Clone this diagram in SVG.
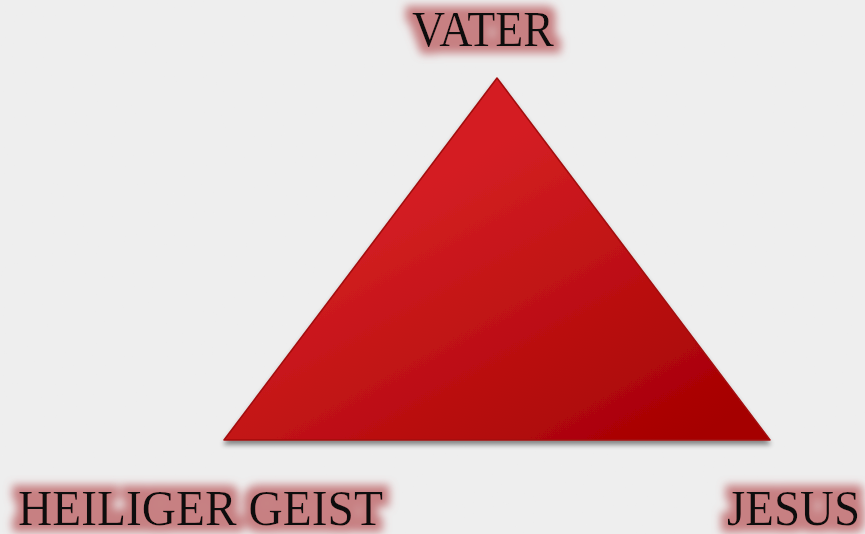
<svg xmlns="http://www.w3.org/2000/svg" width="865" height="534" viewBox="0 0 865 534">
  <defs>
    <filter id="paper" x="0" y="0" width="100%" height="100%">
      <feTurbulence type="fractalNoise" baseFrequency="0.9" numOctaves="2" seed="3" result="n"/>
      <feColorMatrix in="n" type="matrix" values="0 0 0 0 0.82  0 0 0 0 0.82  0 0 0 0 0.82  0 0 0 0.4 0" result="c"/>
      <feComposite in="c" in2="SourceGraphic" operator="over"/>
    </filter>
    <linearGradient id="tri" x1="0.3" y1="0.35" x2="0.85" y2="1">
      <stop offset="0" stop-color="#d41f23"/>
      <stop offset="1" stop-color="#a50002"/>
    </linearGradient>
    <filter id="shadow" x="-10%" y="-10%" width="120%" height="125%">
      <feGaussianBlur in="SourceAlpha" stdDeviation="2.5"/>
      <feOffset dy="4" result="b"/>
      <feComponentTransfer in="b" result="s"><feFuncA type="linear" slope="0.45"/></feComponentTransfer>
      <feMerge><feMergeNode in="s"/><feMergeNode in="SourceGraphic"/></feMerge>
    </filter>
    <filter id="glow" x="-20%" y="-50%" width="140%" height="200%">
      <feMorphology in="SourceAlpha" operator="dilate" radius="7" result="d"/>
      <feGaussianBlur in="d" stdDeviation="4.5" result="bl"/>
      <feFlood flood-color="#bd6467" flood-opacity="0.8"/>
      <feComposite in2="bl" operator="in" result="g"/>
      <feMerge><feMergeNode in="g"/><feMergeNode in="SourceGraphic"/></feMerge>
    </filter>
  </defs>
  <style>
    .lbl { font-family: "Liberation Serif", "Times New Roman", serif; font-size: 50px; fill: #111111; }
  </style>
  <rect width="865" height="534" fill="#efefef" filter="url(#paper)"/>
  <g id="triangle" filter="url(#shadow)">
    <polygon points="497,78 770,440 224,440" fill="url(#tri)" stroke="#a30a0c" stroke-width="1.5" stroke-linejoin="round"/>
  </g>
  <g id="connectors"/>
  <g id="vater" filter="url(#glow)">
    <text class="lbl" x="412" y="46" textLength="142" lengthAdjust="spacingAndGlyphs">VATER</text>
  </g>
  <g id="heiliger-geist" filter="url(#glow)">
    <text class="lbl" x="18" y="525" textLength="365" lengthAdjust="spacingAndGlyphs">HEILIGER GEIST</text>
  </g>
  <g id="jesus" filter="url(#glow)">
    <text class="lbl" x="727" y="525" textLength="133" lengthAdjust="spacingAndGlyphs">JESUS</text>
  </g>
</svg>
